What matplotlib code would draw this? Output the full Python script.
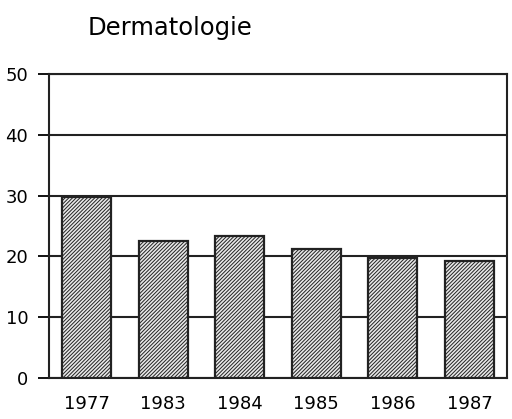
import matplotlib
matplotlib.use("Agg")
import matplotlib.pyplot as plt

years = ["1977", "1983", "1984", "1985", "1986", "1987"]
values = [29.8, 22.5, 23.4, 21.2, 19.8, 19.3]
yticks = [0, 10, 20, 30, 40, 50]
title = "Dermatologie"

plt.rcParams['hatch.color'] = '#3a3a3a'
plt.rcParams['hatch.linewidth'] = 0.7

fig = plt.figure(figsize=(5.12, 4.19), dpi=100)
ax = fig.add_axes([49/512, 1 - 378/419, (507-49)/512, (378-74)/419])

x = list(range(len(years)))
ax.bar(x, values, width=0.64, facecolor='#e8e8e8', edgecolor='#222222',
       linewidth=1.6, hatch='/////////', zorder=3)

ax.set_xlim(-0.49, len(years) - 0.51)
ax.set_ylim(0, 50)
ax.set_yticks(yticks)
ax.set_yticklabels([str(t) for t in yticks], fontsize=13)
ax.set_xticks(x)
ax.set_xticklabels(years, fontsize=13)
ax.tick_params(axis='x', length=0, pad=12)
ax.tick_params(axis='y', length=8, width=1.3, pad=7, direction='out')
ax.yaxis.grid(True, color='#222222', linewidth=1.5, zorder=0)
ax.set_axisbelow(True)
for s in ax.spines.values():
    s.set_linewidth(1.5)
    s.set_color('#222222')

fig.text(170/512, 1 - 28/419, title, fontsize=17.5, ha='center', va='center')

fig.savefig("out.png", dpi=100)
